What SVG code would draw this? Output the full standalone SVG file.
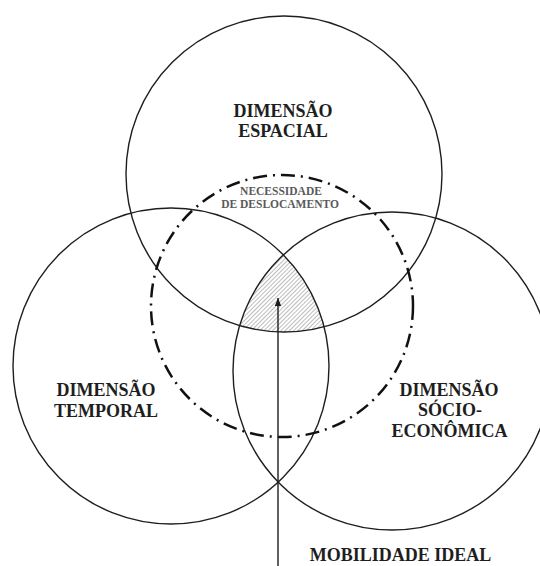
<svg xmlns="http://www.w3.org/2000/svg" width="540" height="566" viewBox="0 0 540 566">
<style>
.c{fill:none;stroke:#1e1e1e;stroke-width:1.4}
.d{fill:none;stroke:#111;stroke-width:2.5;stroke-dasharray:14 6 2 6}
.t{font-family:"Liberation Serif","Times New Roman",serif;font-weight:bold;font-size:18px;fill:#1e1e1e;text-anchor:middle}
.s{font-family:"Liberation Serif","Times New Roman",serif;font-weight:bold;font-size:11.5px;fill:#5a5a5a;text-anchor:middle}
.a{stroke:#1e1e1e;stroke-width:1.4;fill:none}
</style>
<defs>
<pattern id="hatch" patternUnits="userSpaceOnUse" width="3" height="3" patternTransform="rotate(45)">
<line x1="0" y1="0" x2="0" y2="3" stroke="#7a7a7a" stroke-width="1"/>
</pattern>
<clipPath id="cpTop"><circle cx="284" cy="174" r="158"/></clipPath>
<clipPath id="cpLeft"><circle cx="171" cy="366" r="158"/></clipPath>
<clipPath id="cpRight"><circle cx="392" cy="371" r="159"/></clipPath>
<marker id="arr" viewBox="0 0 10 10" refX="10" refY="5" markerWidth="8" markerHeight="8" markerUnits="userSpaceOnUse" orient="auto">
<path d="M0,1 L10,5 L0,9 Z" fill="#1e1e1e"/>
</marker>
</defs>
<rect width="540" height="566" fill="#fff"/>
<g id="mobilidade-ideal-area">
<g clip-path="url(#cpTop)"><g clip-path="url(#cpLeft)"><rect x="220" y="240" width="120" height="100" fill="url(#hatch)" clip-path="url(#cpRight)"/></g></g>
</g>
<g id="dimensao-espacial">
<circle class="c" cx="284" cy="174" r="158"/>
<text class="t" x="283" y="117">DIMENSÃO</text>
<text class="t" x="283" y="137">ESPACIAL</text>
</g>
<g id="dimensao-temporal">
<circle class="c" cx="171" cy="366" r="158"/>
<text class="t" x="106" y="396">DIMENSÃO</text>
<text class="t" x="106" y="416.5">TEMPORAL</text>
</g>
<g id="dimensao-socioeconomica">
<circle class="c" cx="392" cy="371" r="159"/>
<text class="t" x="449" y="395.5">DIMENSÃO</text>
<text class="t" x="450" y="416">SÓCIO-</text>
<text class="t" x="449.5" y="436.5">ECONÔMICA</text>
</g>
<g id="necessidade-de-deslocamento">
<circle class="d" cx="282" cy="306" r="131"/>
<text class="s" x="281" y="195">NECESSIDADE</text>
<text class="s" x="280" y="207.5">DE DESLOCAMENTO</text>
</g>
<g id="connectors">
<line class="a" x1="278" y1="566" x2="278" y2="298" marker-end="url(#arr)"/>
</g>
<g id="mobilidade-ideal-label">
<text class="t" x="400.5" y="561">MOBILIDADE IDEAL</text>
</g>
</svg>
